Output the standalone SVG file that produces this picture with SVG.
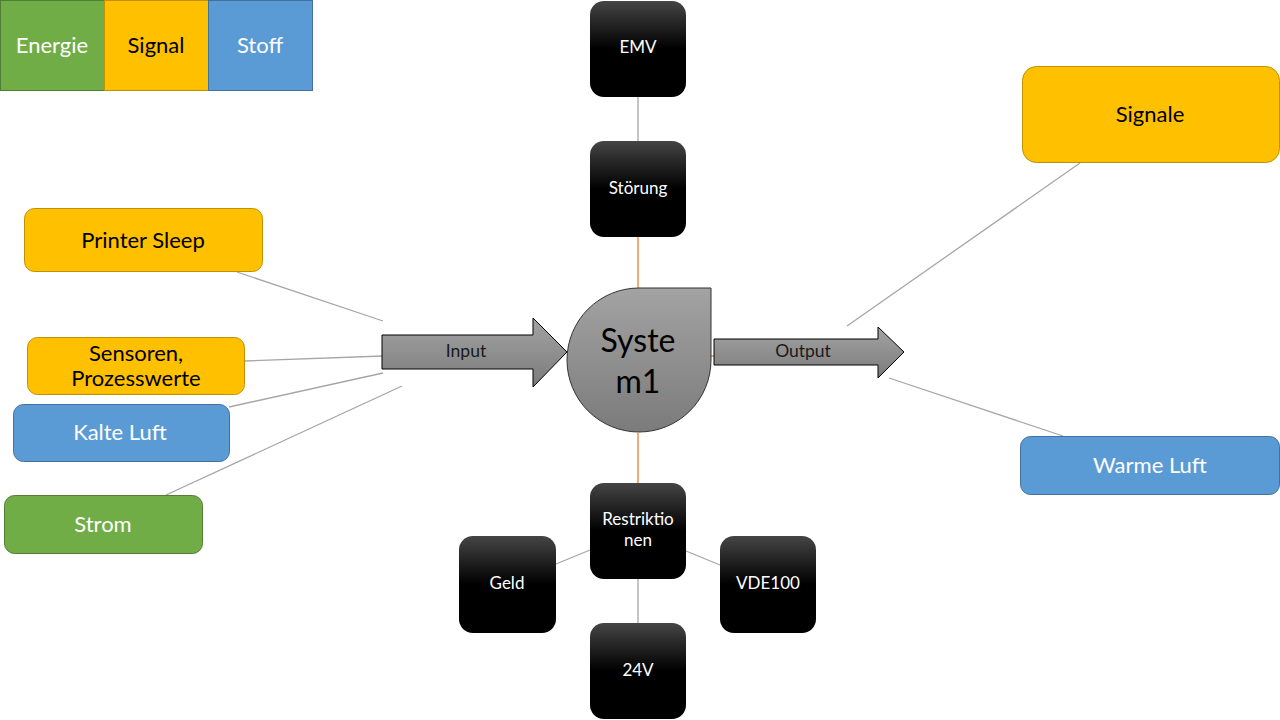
<svg xmlns="http://www.w3.org/2000/svg" width="1280" height="720" viewBox="0 0 1280 720">
<defs>
<linearGradient id="blk" x1="0" y1="0" x2="0" y2="1">
<stop offset="0" stop-color="#454545"/>
<stop offset="0.5" stop-color="#000"/>
<stop offset="1" stop-color="#000"/>
</linearGradient>
<linearGradient id="gry" x1="0" y1="0" x2="0" y2="1">
<stop offset="0" stop-color="#a3a3a3"/>
<stop offset="1" stop-color="#7b7b7b"/>
</linearGradient>
<style>
text{font-family:Lato,"Open Sans","Liberation Sans",sans-serif;text-anchor:middle;dominant-baseline:central}
.y{fill:#FFC000;stroke:#BF9000;stroke-width:1}
.g{fill:#70AD47;stroke:#507E32;stroke-width:1}
.b{fill:#5B9BD5;stroke:#41719C;stroke-width:1}
.k{fill:url(#blk);stroke:none}
.kt{fill:#fff;font-size:17px}
.dt{fill:#000;font-size:22px}
.wt{fill:#fff;font-size:22px}
.gl{stroke:#a6a6a6;stroke-width:1.3;fill:none}
.ol{stroke:#ED7D31;stroke-width:1.3;fill:none}
.ar{fill:url(#gry);stroke:#000;stroke-width:1}
.at{font-size:17.5px;fill:#1a1a1a}
</style>
</defs>
<rect width="1280" height="720" fill="#fff"/>

<g id="connectors">
<line class="gl" x1="638" y1="97" x2="638" y2="141"/>
<line class="ol" x1="638" y1="237" x2="638" y2="288"/>
<line class="ol" x1="638" y1="433" x2="638" y2="483"/>
<line class="ol" x1="710" y1="356" x2="715" y2="356"/>
<line class="gl" x1="590" y1="550" x2="556" y2="564"/>
<line class="gl" x1="686" y1="551" x2="720" y2="565"/>
<line class="gl" x1="638" y1="579" x2="638" y2="623"/>
<line class="gl" x1="237" y1="272" x2="383" y2="321"/>
<line class="gl" x1="245" y1="361" x2="383" y2="356"/>
<line class="gl" x1="229" y1="407" x2="383" y2="373"/>
<line class="gl" x1="166" y1="495" x2="402" y2="386"/>
<line class="gl" x1="847" y1="326" x2="1080" y2="163"/>
<line class="gl" x1="889" y1="378" x2="1063" y2="436"/>
</g>

<g id="legend-energie"><rect class="g" x="0.5" y="0.5" width="104" height="90"/><text class="wt" x="52" y="44">Energie</text></g>
<g id="legend-signal"><rect class="y" x="104.5" y="0.5" width="104" height="90"/><text class="dt" x="156" y="44">Signal</text></g>
<g id="legend-stoff"><rect class="b" x="208.5" y="0.5" width="104" height="90"/><text class="wt" x="260" y="44">Stoff</text></g>

<g id="printer-sleep"><rect class="y" x="24.5" y="208.5" width="238" height="63" rx="10"/><text class="dt" x="143" y="239">Printer Sleep</text></g>
<g id="sensoren"><rect class="y" x="27.5" y="337.5" width="217" height="57" rx="10"/><text class="dt" x="136" y="352">Sensoren,</text><text class="dt" x="136" y="377">Prozesswerte</text></g>
<g id="kalte-luft"><rect class="b" x="13.5" y="404.5" width="216" height="57" rx="10"/><text class="wt" x="120" y="431">Kalte Luft</text></g>
<g id="strom"><rect class="g" x="4.5" y="495.5" width="198" height="58" rx="10"/><text class="wt" x="103" y="523">Strom</text></g>

<g id="signale"><rect class="y" x="1022.5" y="66.5" width="257" height="96" rx="14"/><text class="dt" x="1150" y="113">Signale</text></g>
<g id="warme-luft"><rect class="b" x="1020.5" y="436.5" width="259" height="58" rx="10"/><text class="wt" x="1150" y="464">Warme Luft</text></g>

<g id="emv"><rect class="k" x="590" y="1" width="96" height="96" rx="14"/><text class="kt" x="638" y="46">EMV</text></g>
<g id="stoerung"><rect class="k" x="590" y="141" width="96" height="96" rx="14"/><text class="kt" x="638" y="187">Störung</text></g>
<g id="restriktionen"><rect class="k" x="590" y="483" width="96" height="96" rx="14"/><text class="kt" x="638" y="518">Restriktio</text><text class="kt" x="638" y="539">nen</text></g>
<g id="geld"><rect class="k" x="459" y="536" width="97" height="97" rx="14"/><text class="kt" x="507" y="582">Geld</text></g>
<g id="vde100"><rect class="k" x="720" y="536" width="96" height="97" rx="14"/><text class="kt" x="768" y="582">VDE100</text></g>
<g id="v24"><rect class="k" x="590" y="623" width="96" height="96" rx="14"/><text class="kt" x="638" y="669">24V</text></g>

<g id="input"><path class="ar" d="M382 335 L533 335 L533 318 L567 352 L533 387 L533 369 L382 369 Z"/><text class="at" x="466" y="350">Input</text></g>
<g id="output"><path class="ar" d="M714 339 L878 339 L878 327 L904 352 L878 378 L878 365 L714 365 Z"/><text class="at" x="803" y="350">Output</text></g>

<g id="system1"><path d="M639 288 L711 288 L711 360 A72 72 0 1 1 639 288 Z" fill="url(#gry)" stroke="#333" stroke-width="1"/><text x="638" y="339" style="font-size:32px;fill:#000">Syste</text><text x="638" y="380" style="font-size:32px;fill:#000">m1</text></g>
</svg>
